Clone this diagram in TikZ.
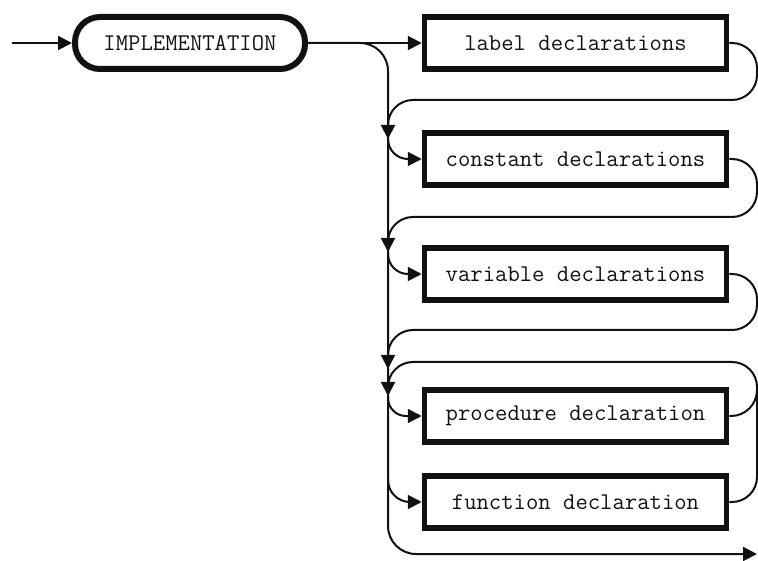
\documentclass[tikz,border=0pt]{standalone}
\usetikzlibrary{arrows.meta,calc,positioning}
\definecolor{ink}{HTML}{111111}

\begin{document}
\begin{tikzpicture}[x=1pt,y=-1pt,
    flow/.style={draw=ink,line width=2pt},
    tip/.style={-{Triangle[length=14pt,width=14pt]}},
    decl/.style={draw=ink,line width=5.5pt,minimum width=302pt,minimum height=52pt,inner sep=0pt,
      text=ink,font=\ttfamily\fontsize{24}{27}\selectfont},
    word/.style={draw=ink,line width=6pt,rounded corners=25pt,minimum width=230pt,minimum height=52pt,
      inner sep=0pt,text=ink,font=\ttfamily\fontsize{24}{27}\selectfont}]
  \def\bx{388}\def\rx{757}
  \useasboundingbox (0,0) rectangle (758,561);
  % boxes
  \node[word] (impl) at (190,43) {IMPLEMENTATION};
  \node[decl] (lbl)  at (575.5,43)  {label declarations};
  \node[decl] (con)  at (575.5,159) {constant declarations};
  \node[decl] (var)  at (575.5,274) {variable declarations};
  \node[decl] (proc) at (575.5,416) {procedure declaration};
  \node[decl] (func) at (575.5,502) {function declaration};
  % junctions on the bus
  \coordinate (start) at (12,43);
  \coordinate (exit) at (757,554);
  \coordinate (j2) at (\bx,139);
  \coordinate (j3) at (\bx,252);
  \coordinate (j4) at (\bx,369);
  \coordinate (j5) at (\bx,396);
  \coordinate (j6) at (\bx,478);
  \coordinate (r5) at (\rx,388);
  % main line and bus
  \draw[flow,tip] (start) -- (impl.west);
  \draw[flow,tip] (impl.east) -- (lbl.west);
  \draw[flow,tip,rounded corners=28pt] (impl.east) -| (\bx,554) -- (exit);
  % loops back to the bus
  \draw[flow,tip,rounded corners=25pt] (lbl.east) -| (\rx,100) -| (j2);
  \draw[flow,tip,rounded corners=25pt] (con.east) -| (\rx,217) -| (j3);
  \draw[flow,tip,rounded corners=25pt] (var.east) -| (\rx,330) -| (j4);
  \draw[flow,tip,rounded corners=25pt] (func.east) -| (\rx,362) -| (j5);
  \draw[flow,rounded corners=26pt] (proc.east) -| (r5);
  % entries from the bus
  \draw[flow,tip,rounded corners=20pt] (j2) |- (con.west);
  \draw[flow,tip,rounded corners=20pt] (j3) |- (var.west);
  \draw[flow,tip,rounded corners=18pt] (j5) |- (proc.west);
  \draw[flow,tip,rounded corners=22pt] (j6) |- (func.west);
\end{tikzpicture}
\end{document}
